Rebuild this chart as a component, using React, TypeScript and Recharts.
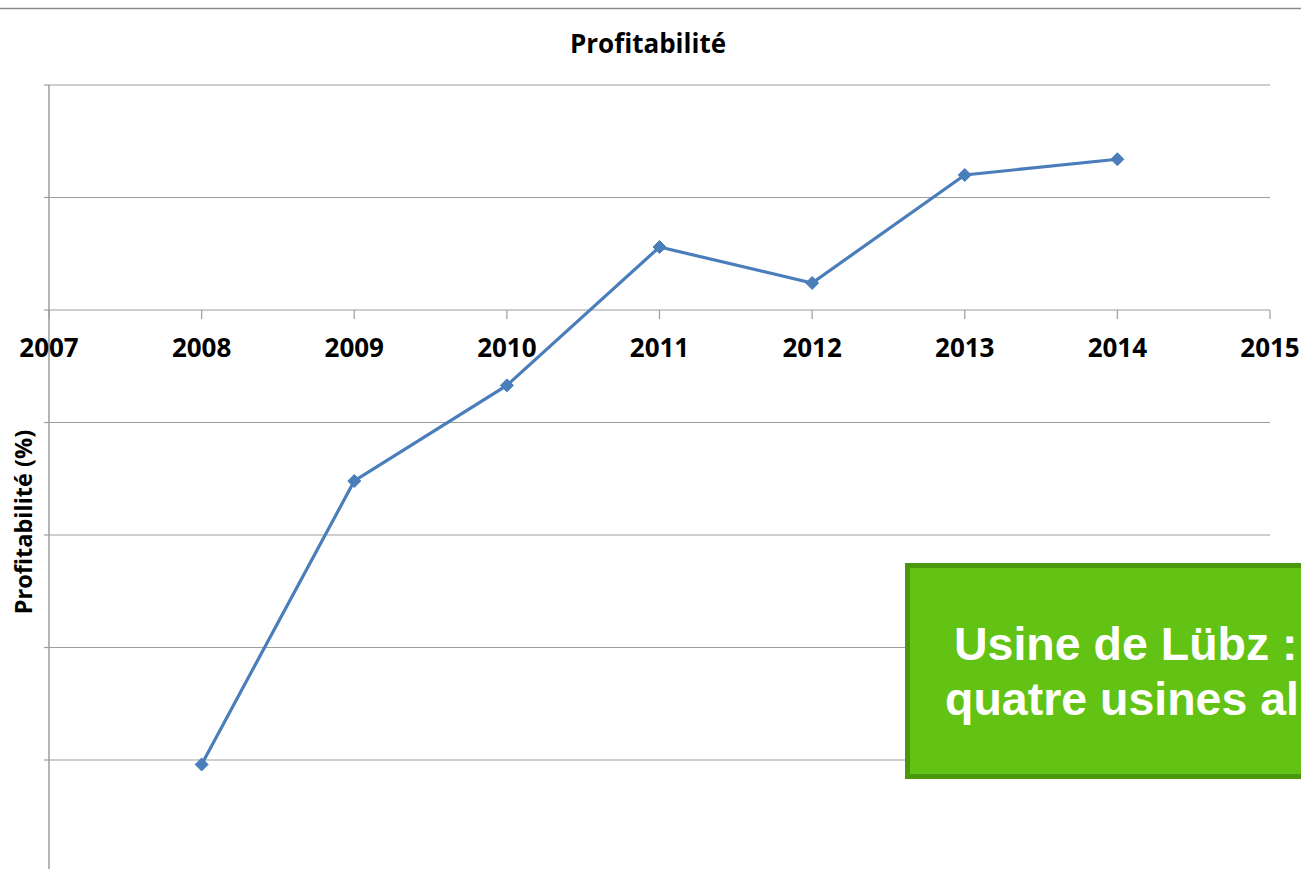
import React from 'react';
import { LineChart, Line, XAxis, YAxis, CartesianGrid, ReferenceDot } from 'recharts';

const years = [2008, 2009, 2010, 2011, 2012, 2013, 2014];
const profitability = [-4.04, -1.52, -0.67, 0.56, 0.24, 1.2, 1.34];
const xTicks = [2007, 2008, 2009, 2010, 2011, 2012, 2013, 2014, 2015];
const yTicks = [-5, -4, -3, -2, -1, 0, 1, 2];
const titleText = 'Profitabilité';
const yLabelText = 'Profitabilité (%)';
const boxLines = ['Usine de Lübz :', 'quatre usines al'];

const data = years.map((y, i) => ({ year: y, value: profitability[i] }));

const GRID = '#9d9d9d';
const BLUE = '#4a7ebb';
const FONT = '"Open Sans", sans-serif';

const Diamond = (props: any) => {
  const { cx, cy, index } = props;
  if (cx == null || cy == null) return <g key={`d-${index}`} />;
  const r = 6.5;
  return (
    <path
      key={`d-${index}`}
      d={`M${cx},${cy - r} L${cx + r},${cy} L${cx},${cy + r} L${cx - r},${cy} Z`}
      fill={BLUE}
      stroke={BLUE}
      strokeWidth={1}
    />
  );
};

const makeTick = (label: string) => (props: any) => {
  const { cx, cy } = props;
  return (
    <g>
      <line x1={cx} y1={cy} x2={cx} y2={cy + 9} stroke={GRID} strokeWidth={1.2} />
      <text
        x={cx}
        y={cy + 47}
        textAnchor="middle"
        fontFamily={FONT}
        fontWeight={700}
        fontSize={26}
        fill="#000"
      >
        {label}
      </text>
    </g>
  );
};

export default function App() {
  return (
    <div
      style={{
        position: 'absolute',
        left: 0,
        top: 0,
        width: 1301,
        height: 869,
        overflow: 'hidden',
        background: '#fff',
      }}
    >
      <LineChart
        width={1301}
        height={880}
        data={data}
        margin={{ top: 85, right: 31, left: 44, bottom: 7.5 }}
      >
        <CartesianGrid vertical={false} horizontal stroke={GRID} strokeWidth={1.2} />
        <XAxis
          dataKey="year"
          type="number"
          domain={[2007, 2015]}
          ticks={xTicks}
          hide
        />
        <YAxis
          type="number"
          domain={[-5, 2]}
          ticks={yTicks}
          width={5}
          tickSize={5}
          axisLine={{ stroke: GRID, strokeWidth: 1.5 }}
          tickLine={{ stroke: GRID, strokeWidth: 1.2 }}
          tickFormatter={() => ''}
        />
        {xTicks.map((t) => (
          <ReferenceDot
            key={t}
            x={t}
            y={0}
            r={0}
            ifOverflow="visible"
            shape={makeTick(String(t))}
          />
        ))}
        <Line
          type="linear"
          dataKey="value"
          stroke={BLUE}
          strokeWidth={3.2}
          dot={Diamond}
          activeDot={false}
          isAnimationActive={false}
        />
      </LineChart>
      <svg
        width={1301}
        height={869}
        style={{ position: 'absolute', left: 0, top: 0, pointerEvents: 'none' }}
      >
        <line x1={0} y1={8.5} x2={1301} y2={8.5} stroke="#8a8a8a" strokeWidth={1.5} />
        <text
          x={648}
          y={53}
          textAnchor="middle"
          fontFamily={FONT}
          fontWeight={700}
          fontSize={26}
          fill="#000"
        >
          {titleText}
        </text>
        <text
          transform="translate(32,522) rotate(-90)"
          textAnchor="middle"
          fontFamily={FONT}
          fontWeight={700}
          fontSize={23.5}
          fill="#000"
        >
          {yLabelText}
        </text>
        <rect
          x={907.5}
          y={565.5}
          width={500}
          height={211}
          fill="#62c314"
          stroke="#4a980d"
          strokeWidth={5}
        />
        <text
          x={954}
          y={660}
          fontFamily='"Liberation Sans", Arial, sans-serif'
          fontWeight={700}
          fontSize={46.5}
          fill="#fff"
        >
          {boxLines[0]}
        </text>
        <text
          x={945}
          y={715}
          fontFamily='"Liberation Sans", Arial, sans-serif'
          fontWeight={700}
          fontSize={46.5}
          fill="#fff"
        >
          {boxLines[1]}
        </text>
      </svg>
    </div>
  );
}
